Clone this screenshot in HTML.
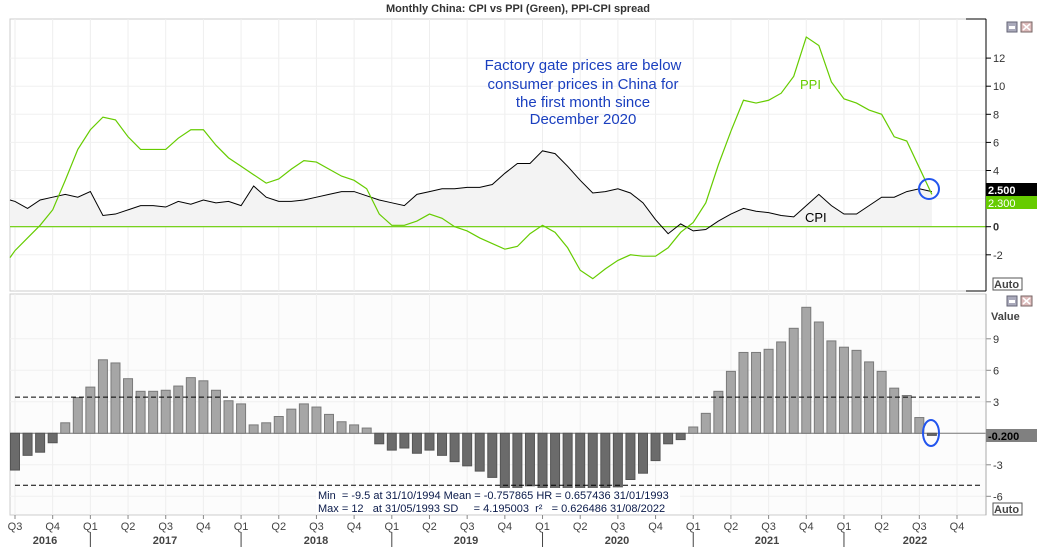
<!DOCTYPE html><html><head><style>body{margin:0;background:#fff}svg{display:block;font-family:"Liberation Sans",sans-serif}</style></head><body>
<svg id="s" width="1037" height="547" xmlns="http://www.w3.org/2000/svg"></svg>
<script>
const cpi=[1.8,1.3,1.9,2.1,2.3,2.1,2.5,0.8,0.9,1.2,1.5,1.5,1.4,1.8,1.6,1.9,1.7,1.8,1.5,2.9,2.1,1.8,1.8,1.9,2.1,2.3,2.5,2.5,2.2,1.9,1.7,1.5,2.3,2.5,2.7,2.7,2.8,2.8,3.0,3.8,4.5,4.5,5.4,5.2,4.3,3.3,2.4,2.5,2.7,2.4,1.7,0.5,-0.5,0.2,-0.3,-0.2,0.4,0.9,1.3,1.1,1.0,0.8,0.7,1.5,2.3,1.5,0.9,0.9,1.5,2.1,2.1,2.5,2.7,2.5];
const ppi=[-1.7,-0.8,0.1,1.2,3.3,5.5,6.9,7.8,7.6,6.4,5.5,5.5,5.5,6.3,6.9,6.9,5.8,4.9,4.3,3.7,3.1,3.4,4.1,4.7,4.6,4.1,3.6,3.3,2.7,0.9,0.1,0.1,0.4,0.9,0.6,0.0,-0.3,-0.8,-1.2,-1.6,-1.4,-0.5,0.1,-0.4,-1.5,-3.1,-3.7,-3.0,-2.4,-2.0,-2.1,-2.1,-1.5,-0.4,0.3,1.7,4.4,6.8,9.0,8.8,9.0,9.5,10.7,13.5,12.9,10.3,9.1,8.8,8.3,8.0,6.4,6.1,4.2,2.3];
const X=i=>15+12.56*i, YT=v=>226.7-14.05*v, YB=v=>433.3-10.5*v;
let h='';
h+='<rect x="10" y="19" width="976" height="272" fill="#fff" stroke="#ccc"/>';
h+='<rect x="10" y="294" width="976" height="221" fill="#fcfcfc" stroke="#ccc"/>';
for(let i=0;i<=75;i+=3){h+=`<line x1="${X(i)}" y1="19" x2="${X(i)}" y2="291" stroke="#eee"/><line x1="${X(i)}" y1="294" x2="${X(i)}" y2="515" stroke="#eee"/>`;}
for(let v=-2;v<=12;v+=2)h+=`<line x1="10" x2="986" y1="${YT(v)}" y2="${YT(v)}" stroke="#f0f0f0"/><line x1="986" x2="991" y1="${YT(v)}" y2="${YT(v)}" stroke="#000"/><text x="993" y="${YT(v)+4}" font-size="11" fill="#333" ${v==0?'font-weight="bold"':''}>${v}</text>`;
for(let v=-6;v<=9;v+=3)h+=`<line x1="10" x2="986" y1="${YB(v)}" y2="${YB(v)}" stroke="#f0f0f0"/><line x1="986" x2="991" y1="${YB(v)}" y2="${YB(v)}" stroke="#888"/>`+(v!=0?`<text x="993" y="${YB(v)+4}" font-size="11" fill="#333">${v}</text>`:'');
let p=cpi.map((v,i)=>`${X(i)},${YT(v)}`).join(' ');
h+=`<polygon points="10,${YT(0)} 10,${YT(1.9)} ${p} ${X(73)},${YT(0)}" fill="#f3f3f3"/>`;
h+=`<line x1="10" x2="986" y1="${YT(0)}" y2="${YT(0)}" stroke="#66cc00" stroke-width="1.2"/>`;
h+=`<polyline points="10,${YT(1.9)} ${p}" fill="none" stroke="#000" stroke-width="1"/>`;
h+=`<polyline points="10,${YT(-2.2)} ${ppi.map((v,i)=>`${X(i)},${YT(v)}`).join(' ')}" fill="none" stroke="#66cc00" stroke-width="1.2"/>`;
h+=`<circle cx="929" cy="189" r="10" fill="none" stroke="#2255ee" stroke-width="2"/>`;
h+=`<line x1="10" x2="986" y1="${YB(0)}" y2="${YB(0)}" stroke="#777"/>`;
ppi.forEach((v,i)=>{let s=Math.round((v-cpi[i])*10)/10;let y=Math.min(YB(0),YB(s)),hh=Math.abs(YB(s)-YB(0));if(hh<1)hh=1;
h+=`<rect x="${X(i)-4.5}" y="${y}" width="9" height="${hh}" fill="${s>=0?'#a6a6a6':'#6b6b6b'}" stroke="${s>=0?'#7a7a7a':'#555'}" stroke-width="1"/>`;});
h+=`<line x1="15" x2="980" y1="${YB(3.44)}" y2="${YB(3.44)}" stroke="#000" stroke-dasharray="5,3"/><line x1="15" x2="980" y1="${YB(-4.95)}" y2="${YB(-4.95)}" stroke="#000" stroke-dasharray="5,3"/>`;
h+=`<ellipse cx="931" cy="433" rx="8" ry="13" fill="none" stroke="#2255ee" stroke-width="2"/>`;
h+='<line x1="986" y1="19" x2="986" y2="291" stroke="#000"/><line x1="966" y1="19" x2="986" y2="19" stroke="#000"/><line x1="966" y1="291" x2="986" y2="291" stroke="#000"/>';
h+='<line x1="986" y1="294" x2="986" y2="515" stroke="#aaa"/>';
h+='<text x="518" y="12" font-size="11" font-weight="bold" text-anchor="middle" fill="#333">Monthly China: CPI vs PPI (Green), PPI-CPI spread</text>';
h+='<g font-size="15" fill="#1a3fbf" text-anchor="middle"><text x="583" y="70">Factory gate prices are below</text><text x="583" y="89">consumer prices in China for</text><text x="583" y="107">the first month since</text><text x="583" y="124">December 2020</text></g>';
h+='<text x="800" y="89" font-size="13" fill="#66cc00">PPI</text><text x="805" y="222" font-size="13" fill="#000">CPI</text>';
h+='<rect x="986" y="183" width="51" height="13" fill="#000"/><text x="988" y="194" font-size="11" font-weight="bold" fill="#fff">2.500</text>';
h+='<rect x="986" y="196" width="51" height="13" fill="#66cc00"/><text x="988" y="207" font-size="11" fill="#fff">2.300</text>';
h+='<rect x="986" y="429" width="51" height="13" fill="#808080"/><text x="988" y="440" font-size="11" font-weight="bold" fill="#000">-0.200</text>';
h+='<text x="991" y="320" font-size="11" font-weight="bold" fill="#444">Value</text>';
h+='<rect x="993" y="278" width="29" height="12" fill="#fff" stroke="#555"/><text x="994" y="288" font-size="11" font-weight="bold" fill="#444">Auto</text>';
h+='<rect x="993" y="503" width="29" height="12" fill="#fff" stroke="#555"/><text x="994" y="513" font-size="11" font-weight="bold" fill="#444">Auto</text>';
for(const y of [22,296]){h+=`<rect x="1007" y="${y}" width="10" height="10" fill="#aab" stroke="#667"/><rect x="1009" y="${y+4}" width="6" height="3" fill="#fff"/><rect x="1021" y="${y}" width="11" height="10" fill="#dbb" stroke="#766"/><path d="M1023 ${y+2}l7 6M1030 ${y+2}l-7 6" stroke="#fff" stroke-width="1.5"/>`;}
h+='<rect x="316" y="488" width="364" height="26" fill="#fff"/>';
h+='<g font-size="11" fill="#0a1a4a"><text x="318" y="499">Min&#160;&#160;= -9.5 at 31/10/1994 Mean = -0.757865 HR = 0.657436 31/01/1993</text><text x="318" y="512">Max = 12&#160;&#160;&#160;at 31/05/1993 SD&#160;&#160;&#160;&#160;&#160;= 4.195003&#160;&#160;r² &#160;&#160;= 0.626486 31/08/2022</text></g>';
const q=['Q3','Q4'];for(let y=0;y<6;y++)q.push('Q1','Q2','Q3','Q4');
q.forEach((t,k)=>{let x=X(k*3);h+=`<line x1="${x}" x2="${x}" y1="515" y2="519" stroke="#888"/><text x="${x}" y="530" font-size="11" fill="#444" text-anchor="middle">${t}</text>`;if(t=='Q1')h+=`<line x1="${x}" x2="${x}" y1="532" y2="547" stroke="#444"/>`;});
[['2016',45],['2017',165],['2018',316],['2019',466],['2020',617],['2021',767],['2022',915]].forEach(a=>h+=`<text x="${a[1]}" y="544" font-size="11" font-weight="bold" fill="#444" text-anchor="middle">${a[0]}</text>`);
document.getElementById('s').innerHTML=h;
</script></body></html>
